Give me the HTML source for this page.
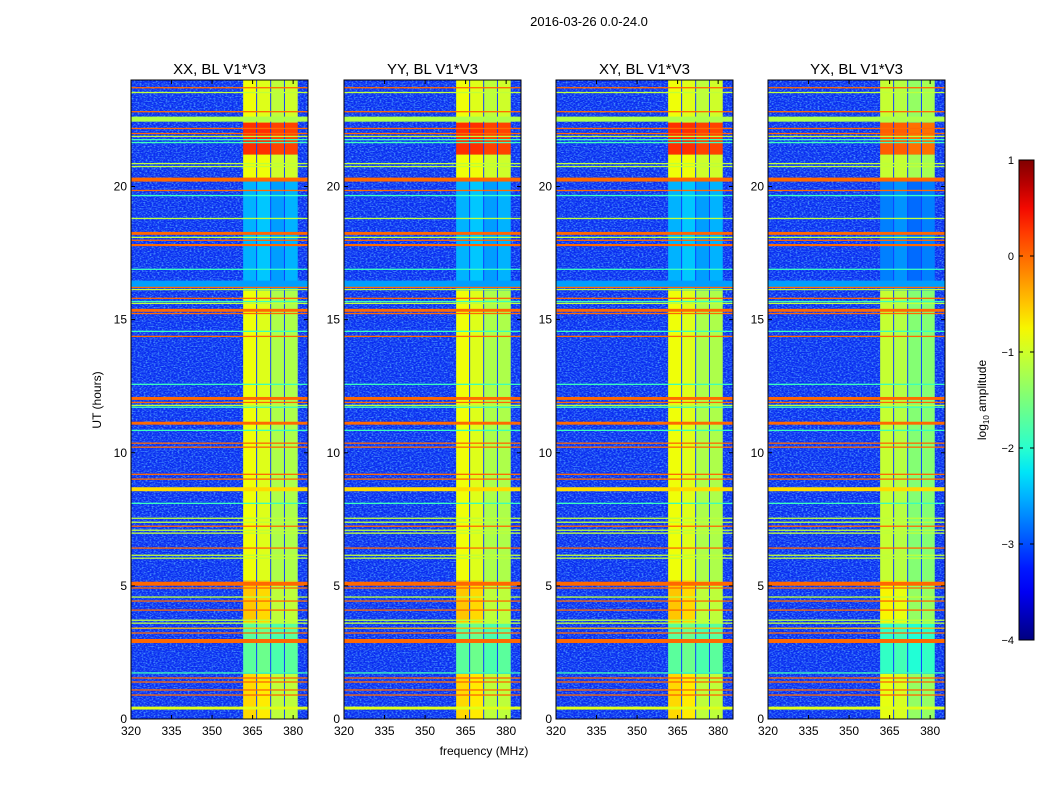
<!DOCTYPE html>
<html><head><meta charset="utf-8"><style>
body{margin:0;background:#fff;font-family:"Liberation Sans",sans-serif}
svg text{font-family:"Liberation Sans",sans-serif}
</style></head><body>
<svg id="fig" width="1050" height="800" xmlns="http://www.w3.org/2000/svg">
<defs>
<filter id="noise" x="0" y="0" width="100%" height="100%">
<feTurbulence type="fractalNoise" baseFrequency="0.5 0.8" numOctaves="2" seed="3"/>
<feColorMatrix type="matrix" values="0 0 0 0 0.1  0 0 0 0 0.45  0 0 0 0 1  0 0 0 2.6 -1.1"/>
</filter>
<linearGradient id="jet" x1="0" y1="1" x2="0" y2="0"></linearGradient>
</defs>
<text x="589" y="26" font-size="13" text-anchor="middle">2016-03-26 0.0-24.0</text>
<g id="panels"></g>
<text transform="translate(101,400) rotate(-90)" font-size="12" text-anchor="middle">UT (hours)</text>
<text x="484" y="755" font-size="12" text-anchor="middle">frequency (MHz)</text>
<g>
<rect x="1019" y="160" width="15" height="480" fill="url(#jet)" stroke="#000" stroke-width="1"/>
<g id="cbticks"></g>
<text transform="translate(986,400) rotate(-90)" font-size="12" text-anchor="middle">log<tspan font-size="8" dy="3">10</tspan><tspan dy="-3"> amplitude</tspan></text>
</g>
</svg>
<script>
const panelTitles=["XX, BL V1*V3","YY, BL V1*V3","XY, BL V1*V3","YX, BL V1*V3"];
const xTicks=[320,335,350,365,380];
const yTicks=[0,5,10,15,20];
const cbTicks=[1,0,-1,-2,-3,-4];
const rfiHours=[23.71,23.53,22.81,22.53,22.18,21.99,21.88,21.76,21.65,20.86,20.75,20.26,19.85,19.66,18.80,18.24,18.09,17.98,17.80,16.89,16.34,16.21,16.13,15.80,15.68,15.61,15.35,15.23,14.56,14.37,12.57,12.04,11.89,11.78,11.71,11.11,10.84,10.36,10.21,9.19,9.01,8.63,8.10,7.54,7.39,7.24,7.09,6.98,6.42,6.15,6.04,5.08,4.92,4.58,4.43,4.09,3.71,3.60,3.41,3.23,2.93,1.73,1.54,1.39,1.09,0.90,0.41];
const rfiWidths=[0.04,0.04,0.04,0.19,0.04,0.04,0.04,0.04,0.04,0.04,0.04,0.15,0.04,0.04,0.04,0.11,0.04,0.04,0.08,0.04,0.25,0.04,0.04,0.04,0.04,0.04,0.11,0.04,0.04,0.04,0.04,0.11,0.04,0.04,0.04,0.11,0.04,0.04,0.04,0.04,0.04,0.15,0.04,0.04,0.04,0.04,0.04,0.04,0.04,0.04,0.04,0.15,0.04,0.04,0.04,0.04,0.04,0.04,0.04,0.04,0.15,0.04,0.04,0.04,0.04,0.04,0.11];
const rfiLevels=[0,-1.1,0,-1.2,0,0,-1.1,-1.9,-1.9,-1.1,-1.1,0,0,-1.9,-1.1,0,-1.1,0,0,-1.9,-2.6,0,-1.1,0,-1.9,-1.1,0,0,-1.9,0,-1.9,0,0,-1.1,-1.9,0,-1.9,0,0,0,0,-0.6,-1.9,-1.1,-1.1,0,-1.1,-1.1,0,-1.1,-1.1,0,0,-1.1,0,0,-1.1,-1.1,-0.4,0,0,-1.9,0,0,0,0,-0.9];
const bandEdges=[361.5,366.3,371.5,376.6,381.7];
const bandSegStart=[0,1.7,3.6,5.2,16.1,20.2,21.2,22.4];
const bandSegEnd=[1.7,3.6,5.2,16.1,20.2,21.2,22.4,24];
const bandCol1=[-0.6,-1.7,-0.5,-0.8,-2.5,-0.8,0.3,-0.8];
const bandCol2=[-0.7,-1.6,-0.6,-0.9,-2.4,-0.8,0.3,-0.9];
const bandCol3=[-1.1,-1.8,-1.1,-1.2,-2.6,-1.0,0.2,-1.1];
const bandCol4=[-1.1,-1.7,-1.1,-1.2,-2.5,-1.0,0.2,-1.0];
const bandCols=[bandCol1,bandCol2,bandCol3,bandCol4];

const NS="http://www.w3.org/2000/svg";
const panelX=[131,344,556,768], PW=177, PT=80, PB=719;
const FMIN=320,FMAX=385.5,HMIN=0,HMAX=24;
function seg(f,pts){for(let i=1;i<pts.length;i++){if(f<=pts[i][0]){const a=pts[i-1],b=pts[i];return a[1]+(b[1]-a[1])*(f-a[0])/(b[0]-a[0]);}}return pts[pts.length-1][1];}
function jetF(f){f=Math.max(0,Math.min(1,f));
 const r=seg(f,[[0,0],[0.35,0],[0.66,1],[0.89,1],[1,0.5]]);
 const g=seg(f,[[0,0],[0.125,0],[0.375,1],[0.64,1],[0.91,0],[1,0]]);
 const b=seg(f,[[0,0.5],[0.11,1],[0.34,1],[0.65,0],[1,0]]);
 return `rgb(${Math.round(r*255)},${Math.round(g*255)},${Math.round(b*255)})`;}
function jet(v){return jetF((v+4)/5);}
function mk(tag,at,parent){const e=document.createElementNS(NS,tag);for(const k in at)e.setAttribute(k,at[k]);parent.appendChild(e);return e;}
const grad=document.getElementById('jet');
for(let i=0;i<=20;i++){mk('stop',{offset:i/20,'stop-color':jetF(i/20)},grad);}
const panels=document.getElementById('panels');
panelX.forEach((x0,p)=>{
 const xs=f=>x0+(f-FMIN)/(FMAX-FMIN)*PW;
 const ys=h=>PB-(h-HMIN)/(HMAX-HMIN)*(PB-PT);
 const g=mk('g',{},panels);
 
 
 const cp=mk('clipPath',{id:'cp'+p},g);mk('rect',{x:x0,y:PT,width:PW,height:PB-PT},cp);
 const inner=mk('g',{'clip-path':'url(#cp'+p+')'},g);
 mk('rect',{x:x0,y:PT,width:PW,height:PB-PT,fill:'#0a2cf0'},inner);
 mk('rect',{x:x0,y:PT,width:PW,height:PB-PT,filter:'url(#noise)',opacity:0.8},inner);
 mk('rect',{x:xs(bandEdges[0]),y:PT,width:xs(bandEdges[4])-xs(bandEdges[0]),height:PB-PT,fill:'#1040ff'},inner);
 bandCols.forEach((col,ci)=>{col.forEach((lv,si)=>{
  const r=mk('rect',{x:xs(bandEdges[ci])+(ci?1:0),y:ys(bandSegEnd[si]),width:xs(bandEdges[ci+1])-xs(bandEdges[ci])-(ci?1:0),height:ys(bandSegStart[si])-ys(bandSegEnd[si]),fill:jet(lv+(p==3?-0.25:0))},inner);
  
  
 });});
 rfiHours.forEach((h,i)=>{
  const hh=Math.max(rfiWidths[i]*(PB-PT)/24,1.3);
  const r=mk('rect',{x:x0,y:ys(h)-hh/2,width:PW,height:hh,fill:jet(rfiLevels[i])},inner);
  
  
 });
 mk('rect',{x:x0,y:PT,width:PW,height:PB-PT,fill:'none',stroke:'#000','stroke-width':1},g);
 const t=mk('text',{x:x0+PW/2,y:74,'font-size':15,'text-anchor':'middle'},g);t.textContent=panelTitles[p];
 
 
 xTicks.forEach(v=>{const X=xs(v);mk('line',{x1:X,x2:X,y1:PB,y2:PB-4,stroke:'#000'},g);mk('line',{x1:X,x2:X,y1:PT,y2:PT+4,stroke:'#000'},g);
  const l=mk('text',{x:X,y:PB+16,'font-size':12,'text-anchor':'middle'},g);l.textContent=v;
  
  });
 yTicks.forEach(v=>{const Y=ys(v);mk('line',{x1:x0,x2:x0+4,y1:Y,y2:Y,stroke:'#000'},g);mk('line',{x1:x0+PW,x2:x0+PW-4,y1:Y,y2:Y,stroke:'#000'},g);
  const l=mk('text',{x:x0-4,y:Y+4,'font-size':12,'text-anchor':'end'},g);l.textContent=v;
  
  });
});
const cb=document.getElementById('cbticks');
cbTicks.forEach(v=>{const Y=640-(v+4)/5*480;
 mk('line',{x1:1019,x2:1023,y1:Y,y2:Y,stroke:'#000'},cb);mk('line',{x1:1034,x2:1030,y1:Y,y2:Y,stroke:'#000'},cb);
 const l=mk('text',{x:1014,y:Y+4,'font-size':11,'text-anchor':'end'},cb);l.textContent=v<0?'\u2212'+(-v):v;
 
 });
</script>
</body></html>
